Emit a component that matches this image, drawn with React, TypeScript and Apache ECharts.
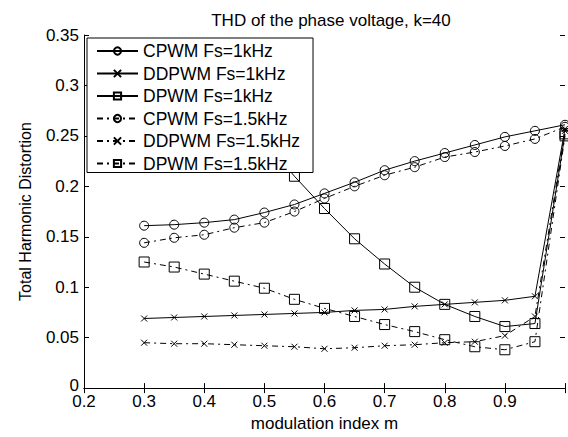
import React, { useEffect, useRef } from "react";
import * as echarts from "echarts";

const modulationIndex = [0.3, 0.35, 0.4, 0.45, 0.5, 0.55, 0.6, 0.65, 0.7, 0.75, 0.8, 0.85, 0.9, 0.95, 1.0];

const cpwm1k = [0.161, 0.162, 0.164, 0.167, 0.174, 0.182, 0.193, 0.204, 0.216, 0.225, 0.233, 0.241, 0.249, 0.255, 0.261];
const ddpwm1k = [0.069, 0.07, 0.071, 0.072, 0.073, 0.074, 0.075, 0.077, 0.078, 0.081, 0.083, 0.085, 0.087, 0.091, 0.257];
const dpwm1k = [0.33, 0.31, 0.29, 0.27, 0.245, 0.21, 0.178, 0.148, 0.123, 0.1, 0.083, 0.071, 0.061, 0.064, 0.252];
const cpwm15k = [0.144, 0.149, 0.152, 0.159, 0.164, 0.175, 0.188, 0.2, 0.211, 0.219, 0.229, 0.234, 0.24, 0.247, 0.259];
const ddpwm15k = [0.045, 0.044, 0.044, 0.043, 0.042, 0.041, 0.039, 0.04, 0.042, 0.043, 0.045, 0.046, 0.052, 0.071, 0.255];
const dpwm15k = [0.125, 0.12, 0.113, 0.106, 0.099, 0.088, 0.079, 0.071, 0.063, 0.056, 0.048, 0.041, 0.038, 0.046, 0.25];

const seriesNames = [
  "CPWM Fs=1kHz",
  "DDPWM Fs=1kHz",
  "DPWM Fs=1kHz",
  "CPWM Fs=1.5kHz",
  "DDPWM Fs=1.5kHz",
  "DPWM Fs=1.5kHz",
];

const titleText = "THD of the phase voltage, k=40";
const xName = "modulation index m";
const yName = "Total Harmonic Distortion";

const FONT = "'Liberation Sans', Arial, Helvetica, sans-serif";
const CROSS = "path://M0,0L10,10M10,0L0,10";

export default function App() {
  const ref = useRef<HTMLDivElement>(null);

  useEffect(() => {
    if (!ref.current) return;
    const chart = echarts.init(ref.current, null, { renderer: "svg" });

    const mk = (name: string, values: number[], symbol: string, size: number, dashed: boolean) => ({
      name,
      type: "line",
      data: modulationIndex.map((x, i) => [x, values[i]]),
      symbol,
      symbolSize: size,
      showSymbol: true,
      showAllSymbol: true,
      clip: true,
      lineStyle: { color: "#000", width: 1, type: dashed ? [6, 4, 2, 4] : "solid" },
      itemStyle: { color: "rgba(255,255,255,0)", borderColor: "#000", borderWidth: 1 },
      emphasis: { disabled: true },
      z: 2,
    });

    const axisCommon = {
      type: "value",
      axisLine: { show: true, lineStyle: { color: "#000", width: 1 } },
      axisTick: { show: true, inside: true, length: 5, lineStyle: { color: "#000" } },
      splitLine: { show: false },
    };

    chart.setOption({
      animation: false,
      backgroundColor: "#fff",
      textStyle: { fontFamily: FONT },
      title: {
        text: titleText,
        left: 326,
        top: 7,
        textAlign: "center",
        textStyle: { fontFamily: FONT, fontSize: 17, fontWeight: "normal", color: "#000" },
      },
      grid: { left: 84, right: 0, top: 35, bottom: 40, containLabel: false },
      legend: {
        orient: "vertical",
        left: 87,
        top: 38,
        data: seriesNames,
        itemWidth: 41,
        itemHeight: 9,
        itemGap: 4.5,
        padding: [4, 13, 0, 9],
        backgroundColor: "#fff",
        borderColor: "#000",
        borderWidth: 1,
        borderRadius: 0,
        selectedMode: false,
        textStyle: { fontFamily: FONT, fontSize: 17.5, color: "#000", lineHeight: 16 },
        z: 10,
      },
      xAxis: [
        {
          ...axisCommon,
          position: "bottom",
          min: 0.2,
          max: 1.0,
          interval: 0.1,
          name: xName,
          nameLocation: "middle",
          nameGap: 24,
          nameTextStyle: { fontFamily: FONT, fontSize: 17, color: "#000" },
          axisLabel: {
            show: true,
            margin: 7,
            fontFamily: FONT,
            fontSize: 17,
            lineHeight: 13,
            color: "#000",
            formatter: (v: number) => (Math.abs(v - 1) < 1e-9 ? "" : String(+v.toFixed(1))),
          },
        },
        {
          ...axisCommon,
          position: "top",
          min: 0.2,
          max: 1.0,
          interval: 0.1,
          axisLabel: { show: false },
        },
      ],
      yAxis: [
        {
          ...axisCommon,
          position: "left",
          min: 0,
          max: 0.35,
          interval: 0.05,
          name: yName,
          nameLocation: "middle",
          nameGap: 51,
          nameTextStyle: { fontFamily: FONT, fontSize: 16, color: "#000" },
          axisLabel: {
            show: true,
            margin: 5,
            fontFamily: FONT,
            fontSize: 17,
            lineHeight: 12,
            color: "#000",
            formatter: (v: number) => (v === 0 ? "{z|0}" : String(+v.toFixed(2))),
            rich: {
              z: { fontFamily: FONT, fontSize: 17, lineHeight: 12, color: "#000", padding: [0, 0, 6, 0] },
            },
          },
        },
        {
          ...axisCommon,
          position: "right",
          min: 0,
          max: 0.35,
          interval: 0.05,
          axisLine: { show: false },
          axisLabel: { show: false },
        },
      ],
      series: [
        mk(seriesNames[0], cpwm1k, "circle", 9, false),
        mk(seriesNames[1], ddpwm1k, CROSS, 6, false),
        mk(seriesNames[2], dpwm1k, "rect", 10, false),
        mk(seriesNames[3], cpwm15k, "circle", 9, true),
        mk(seriesNames[4], ddpwm15k, CROSS, 6, true),
        mk(seriesNames[5], dpwm15k, "rect", 10, true),
      ],
    });

    return () => chart.dispose();
  }, []);

  return (
    <div
      ref={ref}
      style={{ position: "fixed", left: 0, top: 0, width: 568, height: 437, background: "#fff" }}
    />
  );
}
